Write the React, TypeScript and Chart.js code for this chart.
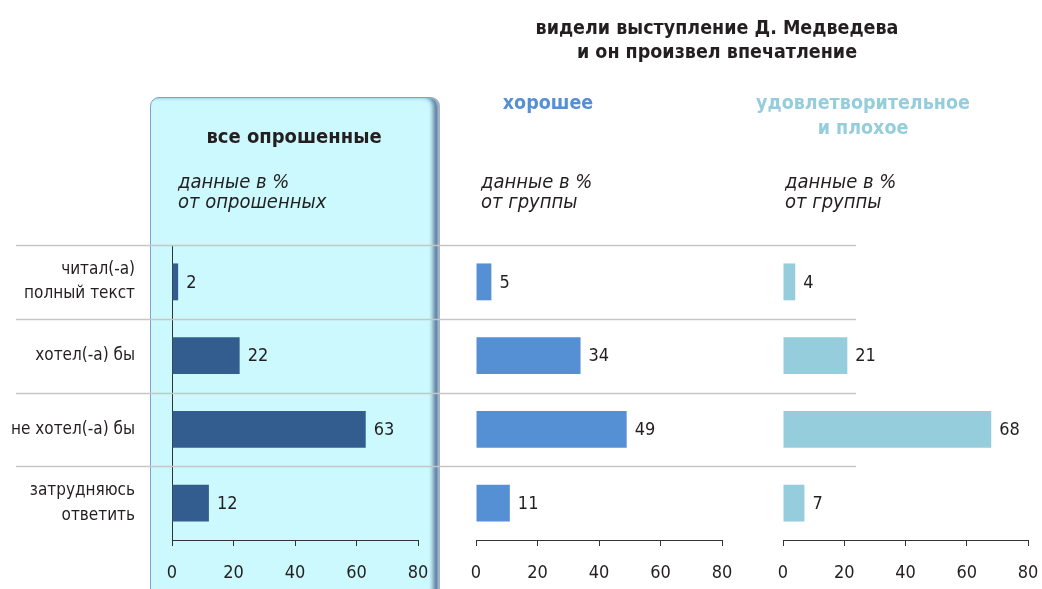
import React, { useEffect, useRef } from "react";
import { Chart, registerables } from "chart.js";

Chart.register(...registerables);

// ---------- data ----------
const categories = [
  ["читал(-а)", "полный текст"],
  "хотел(-а) бы",
  "не хотел(-а) бы",
  ["затрудняюсь", "ответить"],
];
const allRespondents = [2, 22, 63, 12];
const goodImpression = [5, 34, 49, 11];
const poorImpression = [4, 21, 68, 7];
const xTicks = [0, 20, 40, 60, 80];

const mainTitle = ["видели выступление Д. Медведева", "и он произвел впечатление"];
const panel1Title = "все опрошенные";
const panel2Title = "хорошее";
const panel3Title = ["удовлетворительное", "и плохое"];
const noteAll = ["данные в %", "от опрошенных"];
const noteGroup = ["данные в %", "от группы"];

// ---------- styles ----------
const FONT = "'Liberation Sans Narrow', 'DejaVu Sans Condensed', 'Open Sans', 'Noto Sans', sans-serif";
const TEXT = "#231f20";
const C1 = "#335d8e";
const C2 = "#5590d5";
const C3 = "#96cddd";
const W = 1042;
const H = 589;

const valueLabels = {
  id: "valueLabels",
  afterDatasetsDraw(chart: any) {
    const ctx = chart.ctx;
    const meta = chart.getDatasetMeta(0);
    const data = chart.data.datasets[0].data;
    ctx.save();
    ctx.font = `18px ${FONT}`;
    ctx.fillStyle = TEXT;
    ctx.textBaseline = "middle";
    ctx.textAlign = "left";
    meta.data.forEach((bar: any, i: number) => {
      ctx.fillText(String(data[i]), bar.x + 8, bar.y + 1);
    });
    ctx.restore();
  },
};

const rowLines = {
  id: "rowLines",
  beforeDatasetsDraw(chart: any) {
    const y = chart.scales.y;
    const n = chart.data.labels.length;
    const band = y.getPixelForValue(1) - y.getPixelForValue(0);
    const ctx = chart.ctx;
    ctx.save();
    ctx.strokeStyle = "#c6c6c6";
    ctx.lineWidth = 1.3;
    for (let i = 0; i < n; i++) {
      const py = Math.round(y.getPixelForValue(i) - band / 2) + 0.5;
      ctx.beginPath();
      ctx.moveTo(16, py);
      ctx.lineTo(856, py);
      ctx.stroke();
    }
    ctx.restore();
  },
};

function makeConfig(values: number[], color: string, left: number, right: number, showY: boolean, extra: any[]) {
  return {
    type: "bar" as const,
    data: {
      labels: categories,
      datasets: [
        {
          data: values,
          backgroundColor: color,
          borderWidth: 0,
          categoryPercentage: 1,
          barPercentage: 0.5,
        },
      ],
    },
    options: {
      indexAxis: "y" as const,
      responsive: false,
      animation: false as const,
      devicePixelRatio: 1,
      layout: { padding: { left: showY ? 0 : left, right: W - right, top: 245, bottom: 0 } },
      plugins: { legend: { display: false }, tooltip: { enabled: false }, title: { display: false } },
      scales: {
        x: {
          type: "linear" as const,
          position: "bottom" as const,
          min: 0,
          max: 80,
          afterBuildTicks: (s: any) => {
            s.ticks = xTicks.map((v) => ({ value: v }));
          },
          afterFit: (s: any) => {
            s.height = H - 540;
            s.paddingLeft = 0;
            s.paddingRight = 0;
          },
          border: { display: true, color: "#333", width: 1 },
          grid: { display: true, drawOnChartArea: false, drawTicks: true, tickLength: 6, color: "#333" },
          ticks: { color: TEXT, font: { family: FONT, size: 18 }, padding: 17, maxRotation: 0 },
        },
        y: {
          type: "category" as const,
          display: showY,
          offset: true,
          afterFit: (s: any) => {
            s.width = showY ? left : 0;
            s.paddingTop = 0;
            s.paddingBottom = 0;
          },
          border: { display: showY, color: "#333", width: 1 },
          grid: { display: false, drawTicks: false, tickLength: 0 },
          ticks: {
            color: TEXT,
            font: { family: FONT, size: 17, lineHeight: 1.42 },
            padding: 37,
          },
        },
      },
    },
    plugins: [...extra, valueLabels],
  };
}

const abs = (o: any) => ({ position: "absolute" as const, ...o });

export default function App() {
  const r1 = useRef<HTMLCanvasElement>(null);
  const r2 = useRef<HTMLCanvasElement>(null);
  const r3 = useRef<HTMLCanvasElement>(null);

  useEffect(() => {
    const charts = [
      new Chart(r1.current!, makeConfig(allRespondents, C1, 172, 418, true, [rowLines]) as any),
      new Chart(r2.current!, makeConfig(goodImpression, C2, 476, 722, false, []) as any),
      new Chart(r3.current!, makeConfig(poorImpression, C3, 783, 1028, false, []) as any),
    ];
    return () => charts.forEach((c) => c.destroy());
  }, []);

  const canvasStyle = abs({ left: 0, top: 0, width: W, height: H });
  const baseText = { fontFamily: FONT, color: TEXT, whiteSpace: "nowrap" as const, fontStretch: "condensed" };

  return (
    <div style={abs({ left: 0, top: 0, width: W, height: H, overflow: "hidden", background: "#fff" })}>
      <div
        style={abs({
          left: 150,
          top: 97,
          width: 286,
          height: 520,
          background: "#ccf9fd",
          border: "1px solid #7f9fcc",
          borderRadius: 9,
          boxShadow: "inset -5px 0 4px -1px rgba(60,90,130,0.75), 2px 0 0 rgba(80,100,130,0.5)",
        })}
      />
      <canvas ref={r1} width={W} height={H} style={canvasStyle} />
      <canvas ref={r2} width={W} height={H} style={canvasStyle} />
      <canvas ref={r3} width={W} height={H} style={canvasStyle} />

      <div style={abs({ ...baseText, left: 517, top: 16, width: 400, textAlign: "center", fontWeight: 700, fontSize: 19.5, lineHeight: "24px" })}>
        {mainTitle.map((t) => (
          <div key={t}>{t}</div>
        ))}
      </div>
      <div style={abs({ ...baseText, left: 194, top: 123, width: 200, textAlign: "center", fontWeight: 700, fontSize: 20, lineHeight: "26px" })}>
        {panel1Title}
      </div>
      <div style={abs({ ...baseText, left: 448, top: 90, width: 200, textAlign: "center", fontWeight: 700, fontSize: 19.5, lineHeight: "26px", color: C2 })}>
        {panel2Title}
      </div>
      <div style={abs({ ...baseText, left: 743, top: 90, width: 240, textAlign: "center", fontWeight: 700, fontSize: 19.5, lineHeight: "25px", color: C3 })}>
        {panel3Title.map((t) => (
          <div key={t}>{t}</div>
        ))}
      </div>
      {[
        { left: 178, lines: noteAll },
        { left: 481, lines: noteGroup },
        { left: 785, lines: noteGroup },
      ].map((n, i) => (
        <div key={i} style={abs({ ...baseText, left: n.left, top: 171, fontStyle: "italic", fontSize: 20, lineHeight: "20px" })}>
          {n.lines.map((t) => (
            <div key={t}>{t}</div>
          ))}
        </div>
      ))}
    </div>
  );
}
